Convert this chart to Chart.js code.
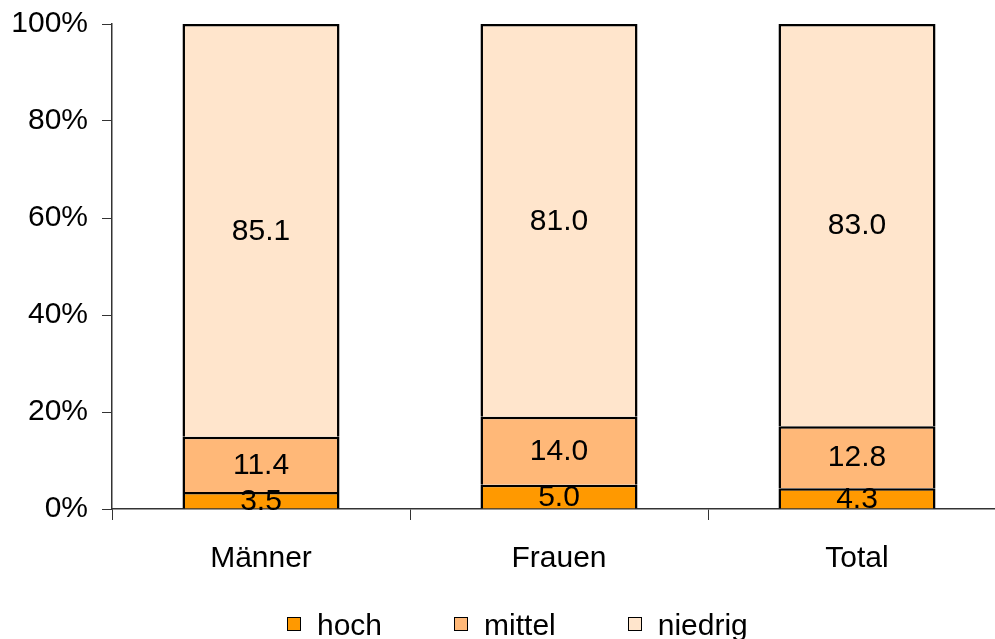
<!doctype html>
<html><head>
    <script src="https://cdn.jsdelivr.net/npm/chart.js"></script>
    <style type="text/css">
    html, body { margin: 0; padding: 0; overflow: hidden; background: #fff; }
    #chartHolder { position: relative; width: 1006px; height: 639px; }
    #legend { position: absolute; left: 287px; top: 608px; display: flex; align-items: center;
              font: 30px "Liberation Sans", Arial, sans-serif; color: #000; white-space: nowrap; }
    #legend .item { display: flex; align-items: center; margin-right: 72px; }
    #legend .box { width: 12px; height: 12px; border: 1.5px solid #000; margin-right: 16px; margin-top: -2px; }
    </style>
</head>
<body>
    <div id="chartHolder">
    <canvas id="myChart" width="1006" height="639"></canvas>
    <div id="legend"></div>
    </div>

    <script type="text/javascript">
    var categories = ['Männer', 'Frauen', 'Total'];
    var hoch = [3.5, 5.0, 4.3];
    var mittel = [11.4, 14.0, 12.8];
    var niedrig = [85.1, 81.0, 83.0];
    var yTicks = [0, 20, 40, 60, 80, 100];

    var FONT = '"Liberation Sans", Arial, sans-serif';

    // 100% stacked: share of each row total
    function share(arr) {
        return arr.map(function(v, i) {
            var total = hoch[i] + mittel[i] + niedrig[i];
            return v / total * 100;
        });
    }

    var series = [
        { label: 'hoch', raw: hoch, color: '#ff9900' },
        { label: 'mittel', raw: mittel, color: '#ffb878' },
        { label: 'niedrig', raw: niedrig, color: '#ffe5cc' }
    ];

    const data = {
        labels: categories,
        datasets: series.map(function(s) {
            return {
                label: s.label,
                data: share(s.raw),
                raw: s.raw,
                backgroundColor: s.color,
                borderColor: '#000',
                borderWidth: 2.5,
                borderSkipped: 'bottom',
                categoryPercentage: 1,
                barPercentage: 0.527
            };
        })
    };

    // value labels in the middle of each segment
    var segLabels = {
        id: 'segLabels',
        afterDatasetsDraw: function(chart) {
            var ctx = chart.ctx;
            ctx.save();
            ctx.font = '30px ' + FONT;
            ctx.fillStyle = '#000';
            ctx.textAlign = 'center';
            ctx.textBaseline = 'middle';
            chart.data.datasets.forEach(function(ds, di) {
                var meta = chart.getDatasetMeta(di);
                meta.data.forEach(function(el, i) {
                    var y = (el.y + el.base) / 2;
                    ctx.fillText(ds.raw[i].toFixed(1), el.x, y + 1);
                });
            });
            ctx.restore();
        }
    };

    const config = {
        type: 'bar',
        data,
        plugins: [segLabels],
        options: {
            responsive: false,
            animation: false,
            layout: { padding: { top: 24, left: 0, right: 0, bottom: 0 } },
            plugins: {
                tooltip: { enabled: false },
                legend: { display: false }
            },
            scales: {
                x: {
                    stacked: true,
                    afterFit: function(scale) { scale.height = 130; },
                    grid: {
                        display: true,
                        offset: true,
                        drawOnChartArea: false,
                        drawTicks: true,
                        tickLength: 11,
                        color: '#333'
                    },
                    border: { color: '#333', width: 1.5 },
                    ticks: {
                        font: { family: FONT, size: 30 },
                        color: '#000',
                        padding: 21,
                        maxRotation: 0,
                        autoSkip: false
                    }
                },
                y: {
                    stacked: true,
                    min: 0,
                    max: 100,
                    afterFit: function(scale) {
                        scale.width = 112;
                        scale.paddingTop = 0;
                        scale.paddingBottom = 0;
                    },
                    afterBuildTicks: function(scale) {
                        scale.ticks = yTicks.map(function(v) { return { value: v }; });
                    },
                    grid: {
                        display: true,
                        drawOnChartArea: false,
                        drawTicks: true,
                        tickLength: 10,
                        color: '#333'
                    },
                    border: { color: '#333', width: 1.5 },
                    ticks: {
                        font: { family: FONT, size: 30 },
                        color: '#000',
                        padding: 14,
                        callback: function(v) { return v + '%'; }
                    }
                }
            }
        }
    };

    var myChart = new Chart(document.getElementById('myChart'), config);

    // legend as real text, built from the series list
    var legend = document.getElementById('legend');
    series.forEach(function(s) {
        var item = document.createElement('div');
        item.className = 'item';
        var box = document.createElement('span');
        box.className = 'box';
        box.style.background = s.color;
        var txt = document.createElement('span');
        txt.innerText = s.label;
        item.appendChild(box);
        item.appendChild(txt);
        legend.appendChild(item);
    });
    </script>
</body>
</html>
